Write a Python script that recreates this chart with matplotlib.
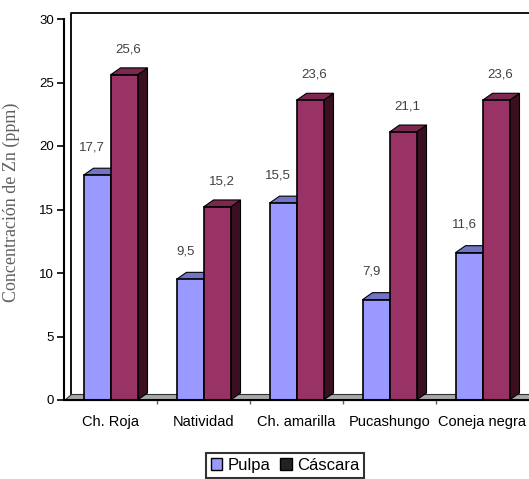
import matplotlib.pyplot as plt
from matplotlib.patches import Polygon, Rectangle, Patch

# Zn content per variety (ppm)
variedades = ['Ch. Roja', 'Natividad', 'Ch. amarilla', 'Pucashungo', 'Coneja negra']
pulpa = [17.7, 9.5, 15.5, 7.9, 11.6]
cascara = [25.6, 15.2, 23.6, 21.1, 23.6]
etiquetas_pulpa = ['17,7', '9,5', '15,5', '7,9', '11,6']
etiquetas_cascara = ['25,6', '15,2', '23,6', '21,1', '23,6']
yticks = [0, 5, 10, 15, 20, 25, 30]

W, H = 529, 479
fig = plt.figure(figsize=(W / 100, H / 100), dpi=100)
# axes in pixel terms: x 64..529, y 19..400
ax = fig.add_axes([64 / W, (H - 400) / H, 465 / W, 381 / H])
ax.set_xlim(0, 5)
ax.set_ylim(0, 30)

px_x = 5 / 465.0
px_y = 30 / 381.0

# back wall and floor (pseudo 3d)
wx, wy = 7 * px_x, 6 * px_y
ax.plot([wx, wx, 5.5], [wy, 30 + wy, 30 + wy], color='black', lw=1.3,
        clip_on=False, zorder=1)
floor = Polygon([(0, 0), (5.5, 0), (5.5, wy), (wx, wy)], closed=True,
                facecolor='#a8a8a8', edgecolor='#303030', lw=0.8,
                clip_on=False, zorder=1)
ax.add_patch(floor)

bw = 27 * px_x
dx, dy = 10 * px_x, 7 * px_y


def bar3d(x0, h, front, top, side):
    ax.add_patch(Polygon([(x0 + bw, 0), (x0 + bw + dx, dy), (x0 + bw + dx, h + dy),
                          (x0 + bw, h)], closed=True, facecolor=side,
                         edgecolor='black', lw=0.8, zorder=3))
    ax.add_patch(Polygon([(x0, h), (x0 + dx, h + dy), (x0 + bw + dx, h + dy),
                          (x0 + bw, h)], closed=True, facecolor=top,
                         edgecolor='black', lw=0.8, zorder=3))
    ax.add_patch(Rectangle((x0, 0), bw, h, facecolor=front, edgecolor='black',
                           lw=1.2, zorder=4))


for i in range(len(variedades)):
    c = i + 0.5
    bar3d(c - bw, pulpa[i], '#9999ff', '#7373c8', '#5050a0')
    bar3d(c, cascara[i], '#993366', '#7a2850', '#3a1020')
    ax.text(c - bw / 2 - 0.05, pulpa[i] + 2.2, etiquetas_pulpa[i], ha='center',
            va='center', fontsize=9.5, color='#404040', family='Liberation Sans')
    ax.text(c + bw / 2 + 0.05, cascara[i] + 2.0, etiquetas_cascara[i], ha='center',
            va='center', fontsize=9.5, color='#404040', family='Liberation Sans')

for s in ['top', 'right']:
    ax.spines[s].set_visible(False)
ax.spines['left'].set_linewidth(1.5)
ax.spines['bottom'].set_linewidth(1.5)
ax.spines['left'].set_zorder(6)
ax.spines['bottom'].set_zorder(6)

ax.set_yticks(yticks)
ax.set_yticklabels([str(v) for v in yticks], family='Liberation Sans', fontsize=9.5)
ax.tick_params(axis='y', length=5, width=1.2, pad=2)
ax.set_xticks([i + 0.5 for i in range(len(variedades))])
ax.set_xticklabels(variedades, family='Liberation Sans', fontsize=10.5)
ax.tick_params(axis='x', length=0, pad=11)
ax.set_xticks([1, 2, 3, 4], minor=True)
ax.tick_params(axis='x', which='minor', length=3, width=1, color='#606060')

ax.set_ylabel('Concentración de Zn (ppm)', family='Liberation Serif',
              fontsize=13, color='#606060')
ax.yaxis.set_label_coords(-44 / 465, 0.52)

handles = [Patch(facecolor='#9999ff', edgecolor='black', lw=1),
           Patch(facecolor='#222222', edgecolor='black', lw=1)]
leg = fig.legend(handles, ['Pulpa', 'Cáscara'], loc='upper center',
                 bbox_to_anchor=(285 / W, 1 - 453 / H), ncol=2, frameon=True,
                 fancybox=False, prop={'family': 'Liberation Sans', 'size': 12},
                 handlelength=0.7, handleheight=0.7, handletextpad=0.3,
                 columnspacing=0.6, borderpad=0.3, borderaxespad=0)
leg.get_frame().set_edgecolor('black')
leg.get_frame().set_linewidth(1.5)

fig.savefig('out.png', dpi=100)
